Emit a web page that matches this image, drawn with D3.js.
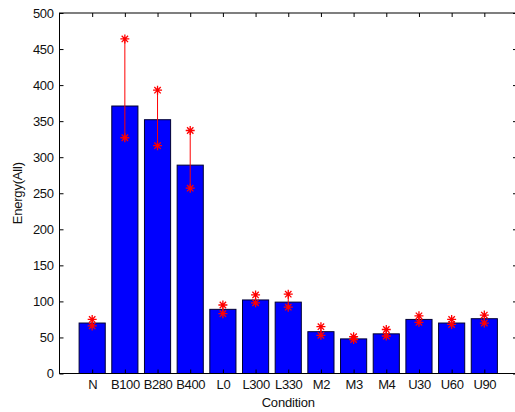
<!DOCTYPE html>
<html><head><meta charset="utf-8">
<script src="https://cdn.jsdelivr.net/npm/d3@7"></script>
<style>body{margin:0;background:#fff}svg{display:block}text{font-family:"Liberation Sans",Arial,sans-serif;fill:#111}</style>
</head><body>
<script>
const categories = ["N","B100","B280","B400","L0","L300","L330","M2","M3","M4","U30","U60","U90"];
const values     = [70, 371, 352, 289, 89, 102, 99, 58, 48, 55, 75, 70, 76];
const errUpper   = [75, 464, 393, 337, 95, 109, 110, 65, 51, 61, 80, 75, 81];
const errLower   = [66, 327, 316, 257, 83, 98, 92, 53, 47, 52, 71, 68, 70];
const yTicks     = [0,50,100,150,200,250,300,350,400,450,500];

const W=515,H=412;
const L=59.5,R=517,T=13,B=373.5;
const svg=d3.select("body").append("svg").attr("width",W).attr("height",H);
const x=d3.scaleLinear().domain([0,categories.length+1]).range([L,R]);
const y=d3.scaleLinear().domain([0,500]).range([B,T]);
const bw=(x(1)-x(0))*0.8;
const styleText=s=>s.selectAll("text").attr("font-size",13).attr("letter-spacing","-0.4px")
  .style("font-family","Liberation Sans, Arial, sans-serif").attr("fill","#111");

// bars
svg.append("g").selectAll("rect").data(values).join("rect")
  .attr("x",(d,i)=>x(i+1)-bw/2).attr("y",d=>y(d))
  .attr("width",bw).attr("height",d=>y(0)-y(d))
  .attr("fill","#0000ff").attr("stroke","#000033").attr("stroke-width",1);

// axes box
svg.append("rect").attr("x",L).attr("y",T).attr("width",R-L).attr("height",B-T)
  .attr("fill","none").attr("stroke","#000").attr("stroke-width",1);
// y ticks
const ya=d3.axisLeft(y).tickValues(yTicks).tickSize(-4).tickPadding(6);
svg.append("g").attr("transform",`translate(${L},0)`).call(ya)
  .call(s=>{s.select(".domain").remove();styleText(s);});
const yr=d3.axisRight(y).tickValues(yTicks).tickSize(-4).tickFormat("");
svg.append("g").attr("transform",`translate(${R},0)`).call(yr).call(s=>s.select(".domain").remove());
// x ticks
const xa=d3.axisBottom(x).tickValues(d3.range(1,categories.length+1)).tickSize(-4).tickPadding(6)
  .tickFormat(d=>categories[d-1]);
svg.append("g").attr("transform",`translate(0,${B})`).call(xa)
  .call(s=>{s.select(".domain").remove();styleText(s);});
const xt=d3.axisTop(x).tickValues(d3.range(1,categories.length+1)).tickSize(-4).tickFormat("");
svg.append("g").attr("transform",`translate(0,${T})`).call(xt).call(s=>s.select(".domain").remove());

// error bars
const eg=svg.append("g");
eg.selectAll("line").data(values).join("line")
  .attr("x1",(d,i)=>x(i+1)).attr("x2",(d,i)=>x(i+1))
  .attr("y1",(d,i)=>y(errUpper[i])).attr("y2",(d,i)=>y(errLower[i]))
  .attr("stroke","#ff0000").attr("stroke-width",1);
const r=4.5,q=3.2;
const star=`M${-r},0H${r}M0,${-r}V${r}M${-q},${-q}L${q},${q}M${-q},${q}L${q},${-q}`;
const pts=[];
values.forEach((d,i)=>{pts.push([i+1,errUpper[i]]);pts.push([i+1,errLower[i]]);});
eg.selectAll("path").data(pts).join("path")
  .attr("transform",d=>`translate(${x(d[0])},${y(d[1])})`)
  .attr("d",star).attr("stroke","#ff0000").attr("stroke-width",1.3).attr("fill","none");

// labels
svg.append("text").attr("x",(L+R)/2).attr("y",407).attr("text-anchor","middle").attr("font-size",13).attr("letter-spacing","-0.2px").text("Condition");
svg.append("text").attr("transform",`translate(22,${(T+B)/2}) rotate(-90)`).attr("text-anchor","middle").attr("font-size",13).attr("letter-spacing","-0.2px").text("Energy(All)");
</script>
</body></html>
